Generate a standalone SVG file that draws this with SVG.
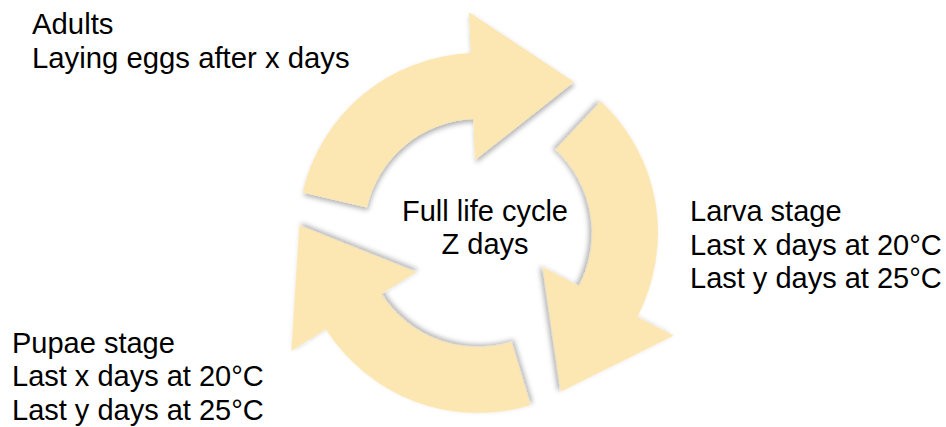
<svg xmlns="http://www.w3.org/2000/svg" width="946" height="427" viewBox="0 0 946 427">
  <style>
    .arrow { fill: #FCE6B1; filter: url(#shadow); }
    .label { font-family: "Liberation Sans", Arial, Helvetica, sans-serif; font-size: 29px; fill: #000000; }
  </style>
  <defs>
    <filter id="shadow" x="-20%" y="-20%" width="140%" height="140%">
      <feDropShadow dx="1" dy="3" stdDeviation="2.5" flood-color="#000000" flood-opacity="0.3"/>
    </filter>
    <path id="arc-arrow" d="M 366.9 207.4 L 302.6 192.5 A 180 180 0 0 1 470.8 53.1 L 469.1 12.2 L 574 82 L 475.1 160.1 L 473.4 119.1 A 114 114 0 0 0 366.9 207.4 Z"/>
  </defs>
  <rect width="946" height="427" fill="#FFFFFF"/>
  <g id="connectors">
    <use href="#arc-arrow" class="arrow"/>
    <use href="#arc-arrow" class="arrow" transform="rotate(120 478 233)"/>
    <use href="#arc-arrow" class="arrow" transform="rotate(240 478 233)"/>
  </g>
  <g id="adults">
    <text class="label" x="32" y="34" style="font-size:29.3px">Adults</text>
    <text class="label" x="32" y="68" style="font-size:29.3px">Laying eggs after x days</text>
  </g>
  <g id="larva">
    <text class="label" x="690" y="221">Larva stage</text>
    <text class="label" x="690" y="254.5">Last x days at 20°C</text>
    <text class="label" x="690" y="288">Last y days at 25°C</text>
  </g>
  <g id="pupae">
    <text class="label" x="12" y="352.5">Pupae stage</text>
    <text class="label" x="12" y="386">Last x days at 20°C</text>
    <text class="label" x="12" y="419.5">Last y days at 25°C</text>
  </g>
  <g id="center">
    <text class="label" x="485" y="220.5" text-anchor="middle">Full life cycle</text>
    <text class="label" x="485" y="254" text-anchor="middle">Z days</text>
  </g>
</svg>
